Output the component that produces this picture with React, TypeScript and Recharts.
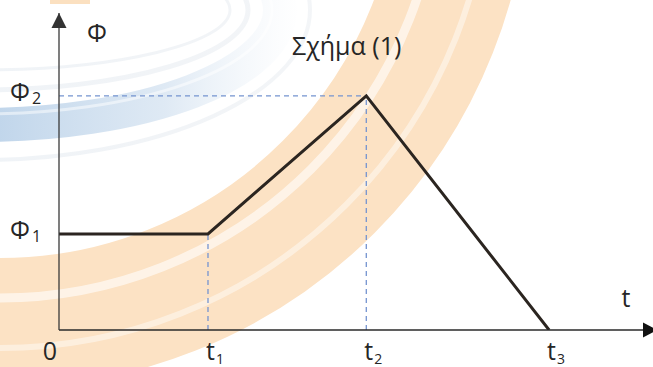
import { LineChart, Line, XAxis, YAxis, ReferenceLine, ReferenceDot, Customized } from 'recharts'

// flux Φ(t): constant, linear rise, linear fall to zero
const times = [0, 3.04, 6.27, 10]
const flux = [4, 4, 9.75, 0]

const timeTicks = [0, 3.04, 6.27, 10]
const timeTickNames = ['0', 't', 't', 't']
const timeTickSubs = ['', '1', '2', '3']

const fluxTicks = [4, 9.75]
const fluxTickNames = ['Φ', 'Φ']
const fluxTickSubs = ['1', '2']

const T_MAX = 12.12
const PHI_MAX = 13.2

const data = times.map((t, i) => ({ t, phi: flux[i] }))

const FONT = "'Open Sans', sans-serif"
const INK = '#262626'
const GUIDE = '#7494d0'

const TimeTick = ({ x, y, index }: any) => {
  if (index === 0) {
    return (
      <text x={x - 9} y={y + 30} textAnchor="middle" fontFamily={FONT} fontSize={25} fill={INK}>
        {timeTickNames[index]}
      </text>
    )
  }
  return (
    <text x={x - 2} y={y + 30} fontFamily={FONT} fontSize={25} fill={INK}>
      {timeTickNames[index]}
      <tspan dx={1} dy={4} fontSize={14}>{timeTickSubs[index]}</tspan>
    </text>
  )
}

const FluxTick = ({ x, y, index }: any) => (
  <text x={x - 49} y={y + 5} fontFamily={FONT} fontSize={25} fill={INK}>
    {fluxTickNames[index]}
    <tspan dx={2} dy={3} fontSize={16}>{fluxTickSubs[index]}</tspan>
  </text>
)

const AxisArrowX = ({ cx, cy }: any) => (
  <polygon points={`${cx - 10},${cy - 7.5} ${cx + 4},${cy} ${cx - 10},${cy + 7.5}`} fill="#111" />
)

const AxisArrowY = ({ cx, cy }: any) => (
  <polygon points={`${cx},${cy} ${cx + 7.5},${cy + 15} ${cx - 7.5},${cy + 15}`} fill="#333" />
)

const Captions = () => (
  <g fontFamily={FONT} fill={INK}>
    <text x={97} y={42} textAnchor="middle" fontSize={25}>Φ</text>
    <text x={626} y={307} textAnchor="middle" fontSize={25}>t</text>
    <text x={292} y={55} fontSize={25}>Σχήμα (1)</text>
  </g>
)

// faded logo swooshes behind the figure
const Backdrop = () => (
  <svg width={653} height={367} style={{ position: 'absolute', left: 0, top: 0 }}>
    <defs>
      <linearGradient id="blueFade" gradientUnits="userSpaceOnUse" x1={0} y1={0} x2={300} y2={0}>
        <stop offset="0" stopColor="#bed4ea" stopOpacity={0.95} />
        <stop offset="0.55" stopColor="#c9dbed" stopOpacity={0.6} />
        <stop offset="1" stopColor="#e0eaf4" stopOpacity={0} />
      </linearGradient>
      <linearGradient id="greyFade" gradientUnits="userSpaceOnUse" x1={0} y1={0} x2={300} y2={0}>
        <stop offset="0" stopColor="#e6ecf2" stopOpacity={0.6} />
        <stop offset="1" stopColor="#dde3ea" stopOpacity={0.35} />
      </linearGradient>
    </defs>
    <rect x={50} y={0} width={40} height={4} fill="#fbe0c0" />
    <circle cx={0} cy={-142} r={465} fill="none" stroke="#fce2c4" strokeWidth={130} />
    <circle cx={0} cy={-142} r={440} fill="none" stroke="#fff" strokeOpacity={0.6} strokeWidth={9} />
    <circle cx={0} cy={-142} r={490} fill="none" stroke="#fff" strokeOpacity={0.45} strokeWidth={6} />
    <circle cx={0} cy={-142} r={533} fill="none" stroke="#fff" strokeOpacity={0.7} strokeWidth={3} />
    <ellipse cx={-20} cy={10} rx={300} ry={115} fill="none" stroke="url(#blueFade)" strokeWidth={34} />
    <ellipse cx={-20} cy={10} rx={292} ry={104} fill="none" stroke="#fff" strokeOpacity={0.5} strokeWidth={3} />
    <ellipse cx={-20} cy={10} rx={268} ry={80} fill="none" stroke="url(#greyFade)" strokeWidth={5} />
    <ellipse cx={-20} cy={10} rx={250} ry={60} fill="none" stroke="url(#greyFade)" strokeWidth={3} />
    <ellipse cx={-20} cy={10} rx={330} ry={150} fill="none" stroke="url(#greyFade)" strokeWidth={4} />
  </svg>
)

export default function App() {
  return (
    <div style={{ position: 'absolute', left: 0, top: 0, width: 653, height: 367, overflow: 'hidden', background: '#fff' }}>
      <Backdrop />
      <div style={{ position: 'absolute', left: 0, top: 0 }}>
        <LineChart width={653} height={367} data={data} margin={{ top: 13, right: 0, bottom: 0, left: 0 }}>
          <XAxis
            dataKey="t"
            type="number"
            domain={[0, T_MAX]}
            ticks={timeTicks}
            interval={0}
            tick={<TimeTick />}
            tickLine={false}
            tickSize={0}
            tickMargin={0}
            height={37}
            axisLine={{ stroke: '#2a2a2a', strokeWidth: 1.6 }}
            allowDataOverflow
          />
          <YAxis
            type="number"
            domain={[0, PHI_MAX]}
            ticks={fluxTicks}
            interval={0}
            tick={<FluxTick />}
            tickLine={false}
            tickSize={0}
            tickMargin={0}
            width={59}
            axisLine={{ stroke: '#3a3a3a', strokeWidth: 1.3 }}
            allowDataOverflow
          />
          <ReferenceLine
            segment={[{ x: 0, y: flux[2] }, { x: times[2], y: flux[2] }]}
            stroke={GUIDE}
            strokeDasharray="5 4"
            strokeWidth={1.3}
          />
          <ReferenceLine
            segment={[{ x: times[1], y: 0 }, { x: times[1], y: flux[1] }]}
            stroke={GUIDE}
            strokeDasharray="5 4"
            strokeWidth={1.3}
          />
          <ReferenceLine
            segment={[{ x: times[2], y: 0 }, { x: times[2], y: flux[2] }]}
            stroke={GUIDE}
            strokeDasharray="5 4"
            strokeWidth={1.3}
          />
          <Line
            type="linear"
            dataKey="phi"
            stroke="#2b2520"
            strokeWidth={3}
            dot={false}
            activeDot={false}
            isAnimationActive={false}
          />
          <ReferenceDot x={T_MAX} y={0} ifOverflow="visible" shape={<AxisArrowX />} />
          <ReferenceDot x={0} y={PHI_MAX} ifOverflow="visible" shape={<AxisArrowY />} />
          <Customized component={<Captions />} />
        </LineChart>
      </div>
    </div>
  )
}
